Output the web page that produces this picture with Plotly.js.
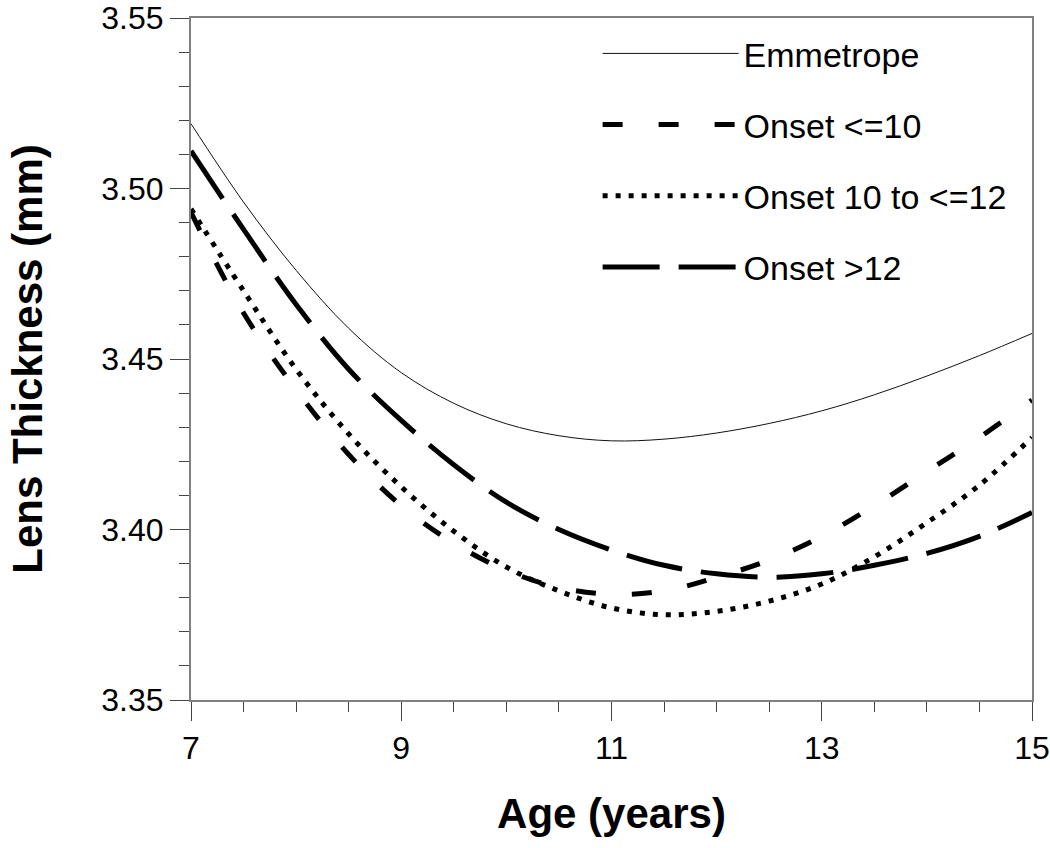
<!DOCTYPE html>
<html>
<head>
<meta charset="utf-8">
<script src="https://cdn.plot.ly/plotly-3.0.1.min.js"></script>
<style>
  html, body { margin: 0; padding: 0; background: #ffffff; }
  #chart { width: 1050px; height: 848px; }
</style>
</head>
<body>
<div id="chart"></div>
<script>
// Age (years)
const ages = [7.0, 7.5, 8.0, 8.5, 9.0, 9.5, 10.0, 10.5, 11.0, 11.5, 12.0, 12.5, 13.0, 13.5, 14.0, 14.5, 15.0];

// Lens thickness (mm) per group
const emmetrope   = [3.519, 3.496, 3.476, 3.459, 3.446, 3.437, 3.431, 3.4275, 3.426, 3.4265, 3.4283, 3.4311, 3.4348, 3.4395, 3.445, 3.451, 3.4575];
const onsetLE10   = [3.493, 3.4635, 3.441, 3.422, 3.407, 3.396, 3.388, 3.383, 3.381, 3.382, 3.386, 3.391, 3.398, 3.407, 3.417, 3.427, 3.438];
const onset10to12 = [3.494, 3.470, 3.447, 3.428, 3.4125, 3.3995, 3.389, 3.382, 3.377, 3.375, 3.376, 3.379, 3.384, 3.392, 3.402, 3.413, 3.427];
const onsetGT12   = [3.511, 3.488, 3.466, 3.447, 3.432, 3.419, 3.408, 3.400, 3.394, 3.3895, 3.387, 3.386, 3.387, 3.3895, 3.393, 3.398, 3.405];

const seriesNames = ["Emmetrope", "Onset <=10", "Onset 10 to <=12", "Onset >12"];

const xTickVals = [7, 9, 11, 13, 15];
const yTickVals = [3.35, 3.40, 3.45, 3.50, 3.55];
const yTickText = ["3.35", "3.40", "3.45", "3.50", "3.55"];

const FONT = "Liberation Sans, Arial, sans-serif";

const traces = [
  { x: ages, y: emmetrope, name: seriesNames[0], legendgroup: "a",
    line: { color: "#111111", width: 1, shape: "spline" } },
  { x: ages, y: onsetLE10, name: seriesNames[1], legendgroup: "b",
    line: { color: "#000000", width: 5, dash: "20px,36px", shape: "spline" } },
  { x: ages, y: onset10to12, name: seriesNames[2], legendgroup: "c",
    line: { color: "#000000", width: 5, dash: "5px,8px", shape: "spline" } },
  { x: ages, y: onsetGT12, name: seriesNames[3], legendgroup: "d",
    line: { color: "#000000", width: 5, dash: "57px,19px", shape: "spline" } }
].map(t => Object.assign({ type: "scatter", mode: "lines", hoverinfo: "skip" }, t));

const layout = {
  width: 1050, height: 848,
  margin: { l: 191, r: 18, t: 18, b: 148 },
  paper_bgcolor: "#ffffff",
  plot_bgcolor: "#ffffff",
  font: { family: FONT, color: "#000000", size: 32 },
  showlegend: true,
  legend: {
    x: 0.4835, y: 0.99, xanchor: "left", yanchor: "top",
    bgcolor: "rgba(0,0,0,0)", borderwidth: 0,
    font: { family: FONT, size: 34, color: "#000000" },
    itemwidth: 136,
    traceorder: "grouped",
    tracegroupgap: 24
  },
  xaxis: {
    range: [7, 15],
    tickmode: "array", tickvals: xTickVals,
    ticks: "outside", ticklen: 19, tickwidth: 1, tickcolor: "#444444",
    minor: { dtick: 0.5, ticks: "outside", ticklen: 10, tickwidth: 1, tickcolor: "#444444", showgrid: false },
    showline: true, linecolor: "#808080", linewidth: 2, mirror: true,
    showgrid: false, zeroline: false,
    ticklabeloverflow: "allow",
    tickfont: { family: FONT, size: 32, color: "#000000" },
    title: { text: "<b>Age (years)</b>", font: { family: FONT, size: 42, color: "#000000" }, standoff: 33 }
  },
  yaxis: {
    range: [3.35, 3.55],
    tickmode: "array", tickvals: yTickVals, ticktext: yTickText,
    ticks: "outside", ticklen: 19, tickwidth: 1, tickcolor: "#444444",
    minor: { dtick: 0.01, ticks: "outside", ticklen: 10, tickwidth: 1, tickcolor: "#444444", showgrid: false },
    showline: true, linecolor: "#808080", linewidth: 2, mirror: true,
    showgrid: false, zeroline: false,
    ticklabeloverflow: "allow",
    tickfont: { family: FONT, size: 32, color: "#000000" },
    title: { text: "<b>Lens Thickness (mm)</b>", font: { family: FONT, size: 42, color: "#000000" }, standoff: 46 }
  }
};

Plotly.newPlot("chart", traces, layout, { staticPlot: true, displayModeBar: false });
</script>
</body>
</html>
